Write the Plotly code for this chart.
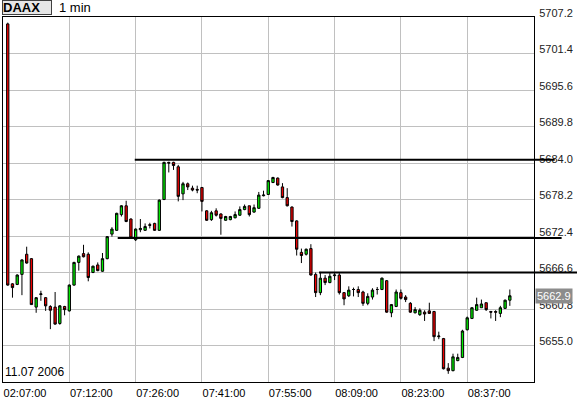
import plotly.graph_objects as go

# ---- data ----
opens = [5706.1, 5664.8, 5664.7, 5666.3, 5669.5, 5668.8, 5661.1, 5663.1, 5662.6, 5661.2,
         5661.1, 5658.5, 5661.2, 5660.5, 5664.6, 5668.2, 5669.6, 5669.5, 5666.6, 5667.8,
         5666.8, 5668.8, 5672.7, 5673.3, 5675.8, 5677.2, 5675.1, 5671.8, 5673.4, 5673.3,
         5674.2, 5674.4, 5673.3, 5678.2, 5684.1, 5684.1, 5683.4, 5679.1, 5680.7, 5680.0,
         5679.8, 5680.1, 5676.4, 5675.0, 5676.4, 5675.9, 5674.9, 5675.0, 5675.3, 5675.7,
         5676.6, 5677.2, 5676.2, 5676.8, 5678.8, 5679.0, 5680.9, 5681.6, 5680.2, 5678.5,
         5677.0, 5674.8, 5669.8, 5669.5, 5670.4, 5666.3, 5663.4, 5665.7, 5665.0, 5666.1,
         5666.2, 5663.4, 5662.9, 5663.9, 5663.9, 5663.5, 5661.7, 5662.7, 5663.9, 5663.9,
         5665.3, 5660.2, 5661.2, 5663.4, 5662.7, 5661.7, 5660.2, 5659.9, 5660.3, 5660.5,
         5660.4, 5656.4, 5656.1, 5651.4, 5651.0, 5652.6, 5653.1, 5657.5, 5659.3, 5660.6,
         5661.0, 5661.8, 5660.4, 5660.4, 5660.1, 5660.9, 5662.2]
highs = [5706.3, 5664.9, 5666.3, 5668.7, 5670.7, 5668.9, 5662.7, 5663.7, 5662.7, 5661.4,
         5663.5, 5661.4, 5661.3, 5664.7, 5668.3, 5669.3, 5671.0, 5669.8, 5667.7, 5668.2,
         5669.7, 5672.4, 5673.8, 5676.1, 5677.3, 5678.0, 5675.2, 5673.6, 5675.1, 5674.4,
         5674.5, 5674.5, 5678.2, 5684.2, 5684.2, 5684.2, 5683.7, 5681.0, 5680.9, 5680.4,
         5680.4, 5680.2, 5676.5, 5676.4, 5676.8, 5676.0, 5675.6, 5675.6, 5676.3, 5677.1,
         5677.4, 5677.2, 5677.4, 5679.4, 5679.6, 5681.3, 5681.8, 5681.7, 5680.8, 5680.0,
         5677.1, 5674.9, 5670.4, 5670.4, 5671.1, 5666.6, 5666.7, 5666.2, 5666.5, 5666.5,
         5666.5, 5663.5, 5664.4, 5664.2, 5664.4, 5663.7, 5663.3, 5664.1, 5664.3, 5665.8,
         5665.4, 5661.6, 5663.9, 5663.9, 5663.0, 5661.9, 5661.1, 5660.9, 5660.6, 5661.8,
         5660.5, 5657.2, 5656.2, 5652.2, 5653.7, 5653.7, 5657.5, 5659.6, 5661.1, 5662.6,
         5662.3, 5661.8, 5660.5, 5660.6, 5661.3, 5662.3, 5663.9]
lows = [5664.5, 5662.6, 5664.6, 5663.0, 5668.0, 5661.5, 5660.2, 5662.1, 5660.5, 5657.6,
        5658.3, 5658.3, 5659.8, 5660.4, 5664.5, 5666.9, 5669.0, 5665.2, 5666.5, 5666.8,
        5666.7, 5668.7, 5672.3, 5673.2, 5675.5, 5674.6, 5672.0, 5671.6, 5673.0, 5673.2,
        5673.6, 5673.2, 5673.2, 5678.1, 5682.5, 5682.9, 5677.9, 5678.1, 5679.7, 5679.5,
        5679.2, 5676.3, 5674.8, 5674.8, 5675.5, 5672.6, 5674.8, 5674.9, 5675.2, 5675.6,
        5676.5, 5675.5, 5676.1, 5676.7, 5678.7, 5678.9, 5680.8, 5680.4, 5678.4, 5677.1,
        5673.9, 5669.3, 5668.1, 5669.3, 5666.1, 5662.7, 5663.0, 5664.6, 5664.9, 5665.4,
        5663.1, 5661.4, 5662.7, 5662.8, 5662.7, 5661.3, 5661.4, 5662.3, 5663.1, 5663.8,
        5660.2, 5659.5, 5661.1, 5662.3, 5661.9, 5660.2, 5660.1, 5659.7, 5658.9, 5660.0,
        5655.7, 5656.0, 5651.2, 5650.5, 5650.9, 5652.5, 5653.0, 5657.4, 5659.2, 5660.5,
        5661.0, 5660.5, 5659.3, 5658.9, 5659.5, 5660.8, 5661.3]
closes = [5664.6, 5664.2, 5666.2, 5668.6, 5668.1, 5661.5, 5662.6, 5663.2, 5661.3, 5660.6,
          5658.4, 5661.3, 5660.7, 5664.6, 5668.2, 5669.2, 5669.1, 5665.8, 5667.6, 5666.9,
          5668.8, 5672.3, 5673.5, 5676.0, 5677.2, 5674.7, 5672.1, 5673.5, 5673.6, 5673.9,
          5674.1, 5673.3, 5678.1, 5684.1, 5684.0, 5683.6, 5678.7, 5680.7, 5680.2, 5679.7,
          5679.7, 5677.9, 5674.9, 5676.1, 5675.7, 5675.2, 5675.5, 5675.5, 5675.8, 5676.6,
          5677.1, 5675.8, 5676.9, 5678.9, 5678.9, 5681.2, 5681.7, 5680.5, 5678.5, 5677.2,
          5674.7, 5670.3, 5669.3, 5670.3, 5666.2, 5663.4, 5665.7, 5665.0, 5666.0, 5666.2,
          5663.4, 5662.4, 5663.8, 5663.9, 5663.4, 5661.7, 5662.8, 5663.8, 5663.9, 5665.7,
          5660.3, 5661.5, 5663.5, 5662.5, 5662.3, 5660.3, 5660.7, 5660.6, 5660.0, 5660.1,
          5656.4, 5656.5, 5651.3, 5651.0, 5653.2, 5653.1, 5657.3, 5659.4, 5661.0, 5661.5,
          5661.6, 5660.7, 5660.3, 5660.3, 5661.0, 5662.2, 5662.9]
bar_index = list(range(len(closes)))

x_tick_index = [-1, 13, 27, 41, 55, 69, 83, 97]
x_tick_labels = ["02:07:00", "07:12:00", "07:26:00", "07:41:00",
                 "07:55:00", "08:09:00", "08:23:00", "08:37:00"]
y_tick_values = [5655.0, 5660.8, 5666.6, 5672.4, 5678.2, 5684.0,
                 5689.8, 5695.6, 5701.4, 5707.2]
y_tick_labels = ["5655.0", "5660.8", "5666.6", "5672.4", "5678.2", "5684.0",
                 "5689.8", "5695.6", "5701.4", "5707.2"]

# support / resistance lines: level, start bar, end (paper fraction past the axis)
level_values = [5684.5, 5672.1, 5666.6]
level_start_bar = [26.5, 22.9, 65.4]
level_end_paper = [1.039, 1.052, 1.082]

symbol = "DAAX"
interval = "1 min"
date_text = "11.07 2006"
last_price = 5662.9

W, H = 578, 398
M_L, M_R, M_T, M_B = 3, 44, 17, 16
PLOT_W = W - M_L - M_R
X_LO, X_HI = -1.0, 111.1
Y_LO, Y_HI = 5649.2, 5707.2
FONT = "Liberation Sans"

fig = go.Figure()
fig.add_trace(go.Candlestick(
    x=bar_index, open=opens, high=highs, low=lows, close=closes,
    increasing=dict(fillcolor="#00ee00", line=dict(color="black", width=1)),
    decreasing=dict(fillcolor="#ee0000", line=dict(color="black", width=1)),
    whiskerwidth=0, showlegend=False, hoverinfo="skip",
))

def xp(idx):
    return (idx - X_LO) / (X_HI - X_LO)

annotations = []
# level lines drawn as annotation arrows so they can run past the axis
for lv, sb, ep in zip(level_values, level_start_bar, level_end_paper):
    length_px = (ep - xp(sb)) * PLOT_W
    annotations.append(dict(xref="paper", yref="y", x=ep, y=lv, text="",
                            showarrow=True, arrowhead=0, arrowwidth=2,
                            arrowcolor="black", axref="pixel", ayref="pixel",
                            ax=-length_px, ay=0, standoff=0, startstandoff=0))

annotations += [
    dict(xref="paper", yref="paper", x=-0.0015, y=1.0247, xanchor="left", yanchor="middle",
         text="<b>%s</b>" % symbol, showarrow=False, align="left",
         font=dict(family=FONT, size=13, color="black"),
         bgcolor="#e6e6e6", bordercolor="#404040", borderwidth=1, borderpad=0,
         width=48, height=13),
    dict(xref="paper", yref="paper", x=0.1016, y=1.0247, xanchor="left", yanchor="middle",
         text=interval, showarrow=False,
         font=dict(family=FONT, size=13, color="black")),
    dict(xref="paper", yref="paper", x=0, y=0, xanchor="left", yanchor="bottom",
         yshift=1, text=date_text, showarrow=False,
         font=dict(family=FONT, size=12, color="black")),
    dict(xref="paper", yref="y", x=1, y=last_price, xanchor="left", yanchor="middle",
         xshift=1, text="%.1f" % last_price, showarrow=False,
         font=dict(family=FONT, size=11, color="white"),
         bgcolor="#8c8c8c", borderpad=1),
]

fig.update_layout(
    width=W, height=H,
    margin=dict(l=M_L, r=M_R, t=M_T, b=M_B, pad=0),
    paper_bgcolor="white", plot_bgcolor="white",
    boxgap=0.3,
    annotations=annotations,
    xaxis=dict(range=[X_LO, X_HI], tickmode="array", tickvals=x_tick_index,
               ticktext=x_tick_labels, showgrid=True, gridcolor="#c0c0c0", gridwidth=1,
               showline=True, linecolor="black", linewidth=1, mirror=True,
               zeroline=False, ticks="", rangeslider=dict(visible=False),
               tickfont=dict(family=FONT, size=11, color="black"),
               ticklabelshift=22, ticklabelstandoff=1, automargin=False),
    yaxis=dict(range=[Y_LO, Y_HI], side="right", tickmode="array",
               tickvals=y_tick_values, ticktext=y_tick_labels,
               showgrid=True, gridcolor="#c0c0c0", gridwidth=1,
               showline=True, linecolor="black", linewidth=1, mirror=True,
               zeroline=False, ticks="",
               tickfont=dict(family=FONT, size=11, color="#222222"),
               ticklabelshift=-4, ticklabelstandoff=2, automargin=False),
    font=dict(family=FONT),
)

fig.write_html("out.html")
